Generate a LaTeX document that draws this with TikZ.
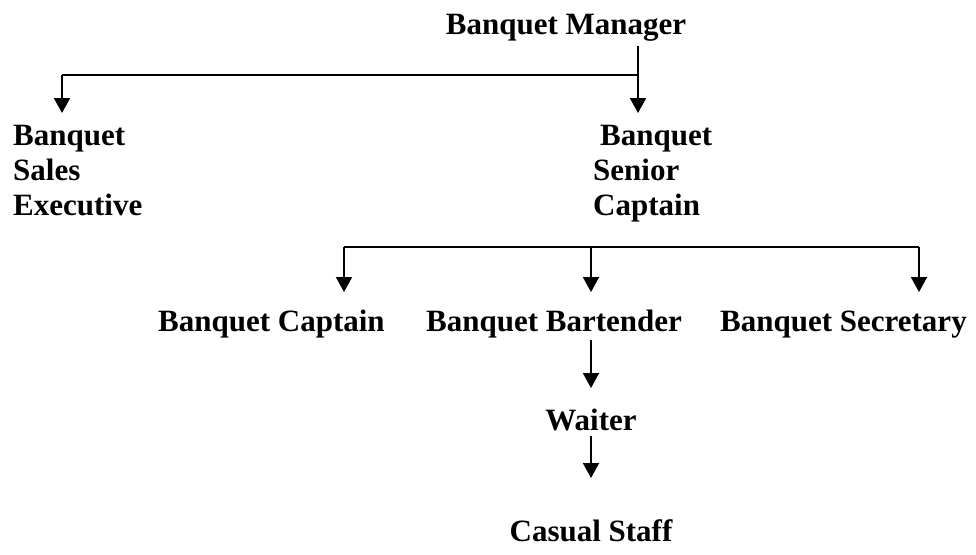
\documentclass[tikz,border=0pt]{standalone}
\usepackage{fontspec}
\setmainfont{Liberation Serif}
\usetikzlibrary{arrows.meta}
\begin{document}
\begin{tikzpicture}[x=1pt,y=-1pt,
  lbl/.style={inner sep=0pt, font=\fontsize{31}{36}\selectfont\bfseries},
  link/.style={line width=2pt},
  arr/.style={line width=2pt, -{Triangle[length=15pt,width=16pt]}}]
\useasboundingbox (0,0) rectangle (976,554);

% --- names ---
\node[lbl, anchor=base] (mgr) at (566,34) {Banquet Manager};

\node[lbl, anchor=base west] (sales1) at (13,145) {Banquet};
\node[lbl, anchor=base west] (sales2) at (13,180) {Sales};
\node[lbl, anchor=base west] (sales3) at (13,215) {Executive};

\node[lbl, anchor=base west] (senior1) at (600,145) {Banquet};
\node[lbl, anchor=base west] (senior2) at (593,180) {Senior};
\node[lbl, anchor=base west] (senior3) at (593,215) {Captain};

\node[lbl, anchor=base west] (captain) at (158,331) {Banquet Captain};
\node[lbl, anchor=base west] (bartender) at (426,331) {Banquet Bartender};
\node[lbl, anchor=base west] (secretary) at (720,331) {Banquet Secretary};

\node[lbl, anchor=base] (waiter) at (591,430) {Waiter};
\node[lbl, anchor=base] (casual) at (591,541) {Casual Staff};

% --- junction and tip points ---
\coordinate (m0) at (638,46);
\coordinate (m1) at (638,75);
\coordinate (m2) at (62,75);
\coordinate (tipSales) at (62,113);
\coordinate (tipSenior) at (638,113);

\coordinate (b1) at (344,247);
\coordinate (b2) at (591,247);
\coordinate (b3) at (919,247);
\coordinate (tipCaptain) at (344,292);
\coordinate (tipBartender) at (591,292);
\coordinate (tipSecretary) at (919,292);

\coordinate (w0) at (591,340);
\coordinate (tipWaiter) at (591,388);
\coordinate (c0) at (591,436);
\coordinate (tipCasual) at (591,478);

% --- connectors ---
\draw[link] (m0) -- (m1) -- (m2);
\draw[arr] (m2) -- (tipSales);
\draw[arr] (m1) -- (tipSenior);

\draw[link] (b1) -- (b3);
\draw[arr] (b1) -- (tipCaptain);
\draw[arr] (b2) -- (tipBartender);
\draw[arr] (b3) -- (tipSecretary);

\draw[arr] (w0) -- (tipWaiter);
\draw[arr] (c0) -- (tipCasual);
\end{tikzpicture}
\end{document}
